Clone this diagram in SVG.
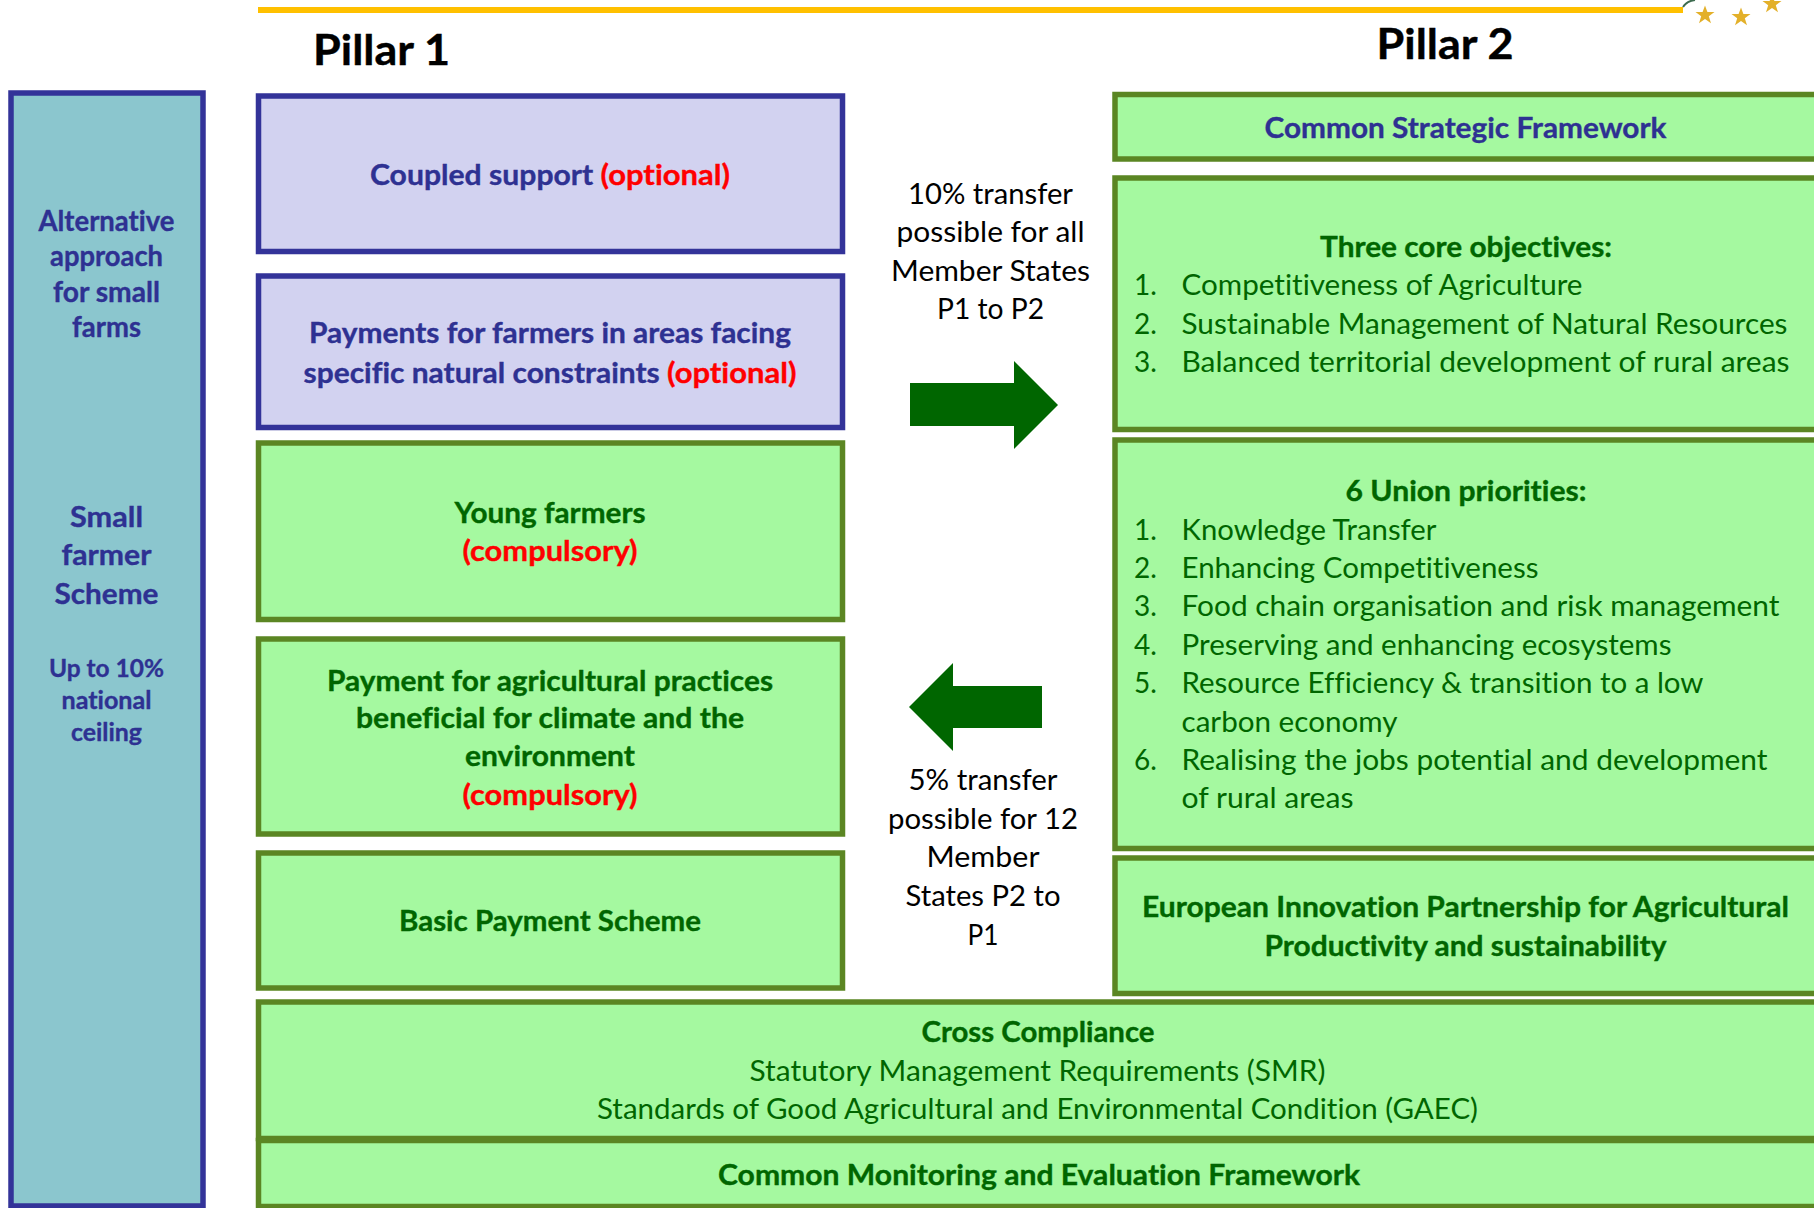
<svg xmlns="http://www.w3.org/2000/svg" width="1814" height="1208" viewBox="0 0 1814 1208">
<defs><polygon id="star" points="0,-9.5 2.4,-3 9.5,-3 3.8,1.2 6,8.2 0,4 -6,8.2 -3.8,1.2 -9.5,-3 -2.4,-3"/></defs>
<style>
text{font-family:Lato,"Open Sans","Liberation Sans",sans-serif;font-size:28px;text-anchor:middle;font-variant-ligatures:none}
.s{text-anchor:start}
.b{font-weight:700;stroke-width:.35px}
.blue{fill:#2E3192;stroke:#2E3192}
.dg{fill:#006600}
.b.dg{stroke:#006600}
.red{fill:#FF0000;stroke:#FF0000}
.k{fill:#000000}
.pb{fill:#D2D2F0;stroke:#333399;stroke-width:5.5}
.gb{fill:#A5F9A0;stroke:#5B8623;stroke-width:5.5}
.tb{fill:#8BC6CE;stroke:#333399;stroke-width:5.5}
.ar{fill:#006600}
.h{font-size:42px;font-weight:700;stroke:#000000;stroke-width:.4px}
</style>
<rect width="1814" height="1208" fill="#ffffff"/>
<g id="header">
<rect x="258" y="7" width="1425" height="6" fill="#FFC000"/>
<path d="M1683 7 Q1687 1 1695 0" fill="none" stroke="#3D6B4F" stroke-width="2"/>
<use href="#star" x="1705" y="15" fill="#E3B02A"/><use href="#star" x="1741" y="17" fill="#E3B02A"/><use href="#star" x="1772" y="4" fill="#E3B02A"/>
<text class="h k" x="381.5" y="65" textLength="137" lengthAdjust="spacingAndGlyphs">Pillar 1</text>
<text class="h k" x="1445" y="59" textLength="137" lengthAdjust="spacingAndGlyphs">Pillar 2</text>
</g>
<g id="small-farms">
<rect class="tb" x="11" y="93" width="192" height="1113"/>
<g class="b blue" style="font-size:26px">
<text x="106.5" y="231" textLength="136" lengthAdjust="spacingAndGlyphs">Alternative</text>
<text x="106.5" y="266" textLength="113" lengthAdjust="spacingAndGlyphs">approach</text>
<text x="106.5" y="302" textLength="107" lengthAdjust="spacingAndGlyphs">for small</text>
<text x="106.5" y="337" textLength="69" lengthAdjust="spacingAndGlyphs">farms</text>
</g>
<g class="b blue">
<text x="106.5" y="527" textLength="73" lengthAdjust="spacingAndGlyphs">Small</text>
<text x="106.5" y="565" textLength="90" lengthAdjust="spacingAndGlyphs">farmer</text>
<text x="106.5" y="604" textLength="104" lengthAdjust="spacingAndGlyphs">Scheme</text>
<text x="106.5" y="677" textLength="115" lengthAdjust="spacingAndGlyphs" style="font-size:24px">Up to 10%</text>
<text x="106.5" y="709" textLength="90" lengthAdjust="spacingAndGlyphs" style="font-size:24px">national</text>
<text x="106.5" y="741" textLength="71" lengthAdjust="spacingAndGlyphs" style="font-size:24px">ceiling</text>
</g>
</g>
<g id="coupled-support">
<rect class="pb" x="258.5" y="96" width="584" height="155.5"/>
<text class="b blue" x="550" y="185" textLength="360" lengthAdjust="spacingAndGlyphs">Coupled support <tspan class="red" style="font-size:28.8px">(optional)</tspan></text>
</g>
<g id="natural-constraints">
<rect class="pb" x="258.5" y="276" width="584" height="151.5"/>
<text class="b blue" x="550" y="343" textLength="482" lengthAdjust="spacingAndGlyphs">Payments for farmers in areas facing</text>
<text class="b blue" x="550" y="382.5" textLength="493" lengthAdjust="spacingAndGlyphs">specific natural constraints <tspan class="red" style="font-size:29px">(optional)</tspan></text>
</g>
<g id="young-farmers">
<rect class="gb" x="258.5" y="443" width="584" height="176.5"/>
<text class="b dg" x="550" y="523" textLength="191" lengthAdjust="spacingAndGlyphs">Young farmers</text>
<text class="b red" x="550" y="561" textLength="175" lengthAdjust="spacingAndGlyphs">(compulsory)</text>
</g>
<g id="greening">
<rect class="gb" x="258.5" y="639" width="584" height="195"/>
<text class="b dg" x="550" y="691" textLength="446" lengthAdjust="spacingAndGlyphs">Payment for agricultural practices</text>
<text class="b dg" x="550" y="728" textLength="388" lengthAdjust="spacingAndGlyphs">beneficial for climate and the</text>
<text class="b dg" x="550" y="766" textLength="170" lengthAdjust="spacingAndGlyphs">environment</text>
<text class="b red" x="550" y="805" textLength="175" lengthAdjust="spacingAndGlyphs">(compulsory)</text>
</g>
<g id="basic-payment">
<rect class="gb" x="258.5" y="853" width="584" height="135"/>
<text class="b dg" x="550" y="931" textLength="302" lengthAdjust="spacingAndGlyphs">Basic Payment Scheme</text>
</g>
<g id="csf">
<rect class="gb" x="1115" y="94.5" width="720" height="64.5"/>
<text class="b blue" x="1465.5" y="138" textLength="402" lengthAdjust="spacingAndGlyphs">Common Strategic Framework</text>
</g>
<g id="objectives">
<rect class="gb" x="1115" y="178" width="720" height="251.5"/>
<text class="b dg" x="1466" y="257" textLength="292" lengthAdjust="spacingAndGlyphs">Three core objectives:</text>
<g class="dg">
<text class="s" x="1134" y="295">1.</text><text class="s" x="1181.5" y="295" textLength="401" lengthAdjust="spacingAndGlyphs">Competitiveness of Agriculture</text>
<text class="s" x="1134" y="334">2.</text><text class="s" x="1181.5" y="334" textLength="606" lengthAdjust="spacingAndGlyphs">Sustainable Management of Natural Resources</text>
<text class="s" x="1134" y="372">3.</text><text class="s" x="1181.5" y="372" textLength="608" lengthAdjust="spacingAndGlyphs">Balanced territorial development of rural areas</text>
</g>
</g>
<g id="priorities">
<rect class="gb" x="1115" y="440" width="720" height="408.5"/>
<text class="b dg" x="1466" y="501" textLength="241" lengthAdjust="spacingAndGlyphs">6 Union priorities:</text>
<g class="dg">
<text class="s" x="1134" y="540">1.</text><text class="s" x="1181.5" y="540" textLength="255" lengthAdjust="spacingAndGlyphs">Knowledge Transfer</text>
<text class="s" x="1134" y="578">2.</text><text class="s" x="1181.5" y="578" textLength="357" lengthAdjust="spacingAndGlyphs">Enhancing Competitiveness</text>
<text class="s" x="1134" y="616">3.</text><text class="s" x="1181.5" y="616" textLength="598" lengthAdjust="spacingAndGlyphs">Food chain organisation and risk management</text>
<text class="s" x="1134" y="655">4.</text><text class="s" x="1181.5" y="655" textLength="490" lengthAdjust="spacingAndGlyphs">Preserving and enhancing ecosystems</text>
<text class="s" x="1134" y="693">5.</text><text class="s" x="1181.5" y="693" textLength="522" lengthAdjust="spacingAndGlyphs">Resource Efficiency &amp; transition to a low</text>
<text class="s" x="1181.5" y="732" textLength="216" lengthAdjust="spacingAndGlyphs">carbon economy</text>
<text class="s" x="1134" y="770">6.</text><text class="s" x="1181.5" y="770" textLength="586" lengthAdjust="spacingAndGlyphs">Realising the jobs potential and development</text>
<text class="s" x="1181.5" y="808" textLength="172" lengthAdjust="spacingAndGlyphs">of rural areas</text>
</g>
</g>
<g id="eip">
<rect class="gb" x="1115" y="858" width="720" height="135.5"/>
<text class="b dg" x="1465.5" y="917" textLength="647" lengthAdjust="spacingAndGlyphs">European Innovation Partnership for Agricultural</text>
<text class="b dg" x="1465.5" y="956" textLength="402" lengthAdjust="spacingAndGlyphs">Productivity and sustainability</text>
</g>
<g id="cross-compliance">
<rect class="gb" x="258.5" y="1002" width="1580" height="136.5"/>
<text class="b dg" x="1038" y="1042" textLength="233" lengthAdjust="spacingAndGlyphs">Cross Compliance</text>
<text class="dg" x="1037.5" y="1081" textLength="576" lengthAdjust="spacingAndGlyphs">Statutory Management Requirements (SMR)</text>
<text class="dg" x="1037.5" y="1119" textLength="881" lengthAdjust="spacingAndGlyphs">Standards of Good Agricultural and Environmental Condition (GAEC)</text>
</g>
<g id="monitoring">
<rect class="gb" x="258.5" y="1140.5" width="1580" height="66"/>
<text class="b dg" x="1039" y="1185" textLength="642" lengthAdjust="spacingAndGlyphs">Common Monitoring and Evaluation Framework</text>
</g>
<g id="transfer-p1-p2">
<text class="k" x="990.5" y="204" textLength="165" lengthAdjust="spacingAndGlyphs">10% transfer</text>
<text class="k" x="990.5" y="242" textLength="188" lengthAdjust="spacingAndGlyphs">possible for all</text>
<text class="k" x="990.5" y="281" textLength="199" lengthAdjust="spacingAndGlyphs">Member States</text>
<text class="k" x="990.5" y="319" textLength="107" lengthAdjust="spacingAndGlyphs">P1 to P2</text>
</g>
<g id="transfer-p2-p1">
<text class="k" x="983" y="790" textLength="149" lengthAdjust="spacingAndGlyphs">5% transfer</text>
<text class="k" x="983" y="829" textLength="190" lengthAdjust="spacingAndGlyphs">possible for 12</text>
<text class="k" x="983" y="867" textLength="113" lengthAdjust="spacingAndGlyphs">Member</text>
<text class="k" x="983" y="906" textLength="155" lengthAdjust="spacingAndGlyphs">States P2 to</text>
<text class="k" x="983" y="945" textLength="31" lengthAdjust="spacingAndGlyphs">P1</text>
</g>
<g id="connectors">
<polygon class="ar" points="910,383 1014,383 1014,361 1058,405 1014,449 1014,426 910,426"/>
<polygon class="ar" points="909,707 953,663 953,686 1042,686 1042,728 953,728 953,751"/>
</g>
</svg>
